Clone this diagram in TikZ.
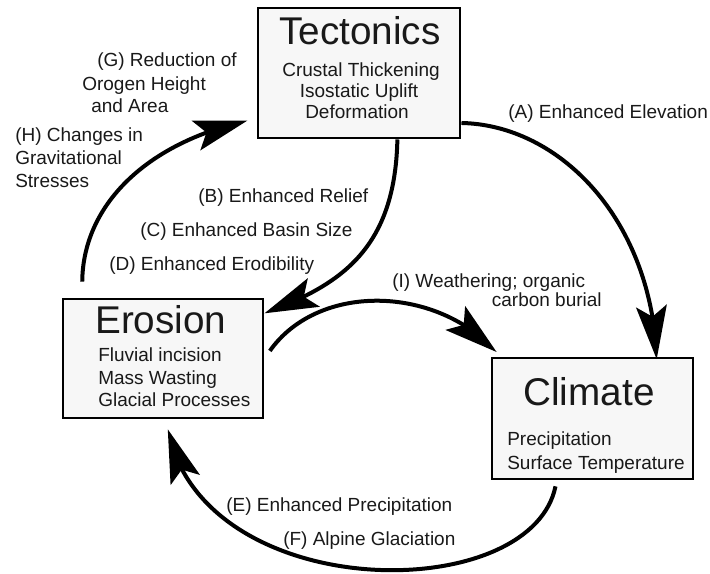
\documentclass[tikz,border=0pt]{standalone}
\usepackage{fontspec}
\setmainfont{Liberation Sans}
\usepackage{tikz}
\usetikzlibrary{arrows.meta,bending}
\tikzstyle{box}=[draw, line width=2.2pt, fill=gray!6, inner sep=0pt]
\tikzstyle{loop>}=[line width=3pt, -{Stealth[length=40pt,width=23pt,inset=8pt]}]
\tikzstyle{txt}=[anchor=base west, inner sep=0pt, text=black!90, font=\fontsize{14.25}{17}\selectfont]
\tikzstyle{ttl}=[anchor=base west, inner sep=0pt, text=black!90, font=\fontsize{29}{34}\selectfont]

\begin{document}
\begin{tikzpicture}[x=0.75pt,y=-0.75pt]
\useasboundingbox (0,0) rectangle (710,574);
% the three boxes
\node[box, minimum width=151.5pt, minimum height=97.5pt] (tect) at (359,73) {};
\node[box, minimum width=150pt, minimum height=89.25pt] (eros) at (163,358.5) {};
\node[box, minimum width=150.75pt, minimum height=90.75pt] (clim) at (592.5,418.5) {};

\node[ttl] (tecttitle) at (279,45) {Tectonics};
\node[txt, anchor=base] (tect1) at (361,77) {Crustal Thickening};
\node[txt, anchor=base] (tect2) at (359,97.5) {Isostatic Uplift};
\node[txt, anchor=base] (tect3) at (357,119) {Deformation};

\node[ttl] (erostitle) at (95,333) {Erosion};
\node[txt] (eros1) at (98,361) {Fluvial incision};
\node[txt] (eros2) at (98,384) {Mass Wasting};
\node[txt] (eros3) at (98,406) {Glacial Processes};

\node[ttl, anchor=base] (climtitle) at (589,405) {Climate};
\node[txt] (clim1) at (507,445) {Precipitation};
\node[txt] (clim2) at (507,469) {Surface Temperature};

% labels
\node[txt] (labA) at (508,118.5) {(A) Enhanced Elevation};
\node[txt] (labB) at (198,202) {(B) Enhanced Relief};
\node[txt] (labC) at (140,236) {(C) Enhanced Basin Size};
\node[txt] (labD) at (109,270) {(D) Enhanced Erodibility};
\node[txt] (labE) at (226,511) {(E) Enhanced Precipitation};
\node[txt] (labF) at (283,545) {(F) Alpine Glaciation};
\node[txt] (labG1) at (97,67) {(G) Reduction of};
\node[txt] (labG2) at (82,91) {Orogen Height};
\node[txt] (labG3) at (91,113) {and Area};
\node[txt] (labH1) at (15,141.5) {(H) Changes in};
\node[txt] (labH2) at (15,165) {Gravitational};
\node[txt] (labH3) at (15,188) {Stresses};
\node[txt] (labI1) at (392,287) {(I) Weathering; organic};
\node[txt, anchor=base east] (labI2) at (602,306) {carbon burial};

% feedback arrows
\draw[loop>] (tect.-26) .. controls (560,125) and (652,220) .. ([yshift=-2pt]clim.44);
\draw[loop>] (tect.-60) .. controls (395,250) and (340,285) .. (eros.24);
\draw[loop>, shorten <=12pt, shorten >=7pt] (eros.143) .. controls (83,200) and (150,140) .. (tect.204);
\draw[loop>, shorten <=7pt, shorten >=4.5pt] (eros.east) .. controls (320,280) and (440,285) .. (clim.146);
\draw[loop>, shorten <=4.5pt, shorten >=7.5pt] (clim.-120) .. controls (530,610) and (190,605) .. (eros.-87);
\end{tikzpicture}
\end{document}
